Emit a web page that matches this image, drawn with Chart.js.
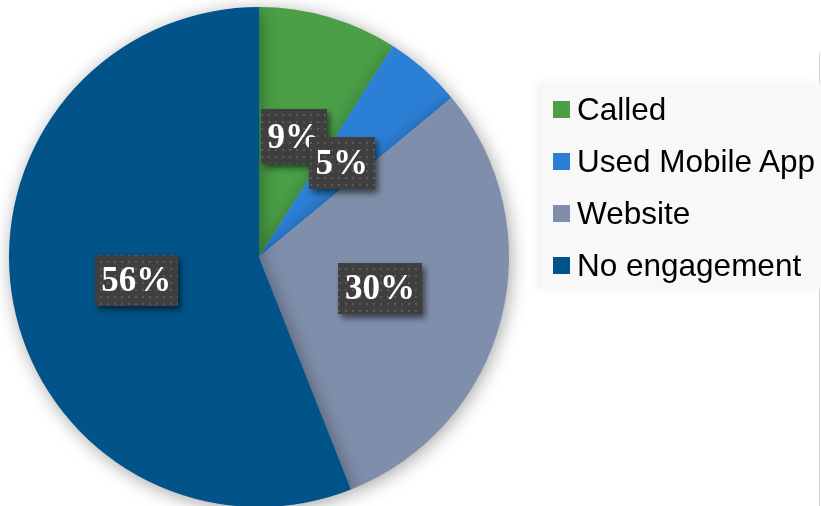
<!DOCTYPE html>
<html><head><meta charset="utf-8">
<script src="https://cdn.jsdelivr.net/npm/chart.js@4"></script>
<style>
html,body{margin:0;padding:0;background:#fff;overflow:hidden;width:821px;height:506px}
#wrap{position:absolute;left:0;top:0;width:821px;height:520px}
#vline{position:absolute;left:819px;top:53px;width:1px;height:460px;background:#d4d4d4}
#legend{position:absolute;left:541px;top:83px;width:280px;height:206px;background:#f8f8f8;box-shadow:-4px 0 8px rgba(0,0,0,0.06);font-family:"Liberation Sans",Arial,sans-serif;font-size:31.5px;color:#000;overflow:hidden}
.item{position:absolute;left:12px;height:34px;line-height:34px;white-space:nowrap}
.sw{display:inline-block;width:17px;height:17px;vertical-align:middle;margin-right:7px;position:relative;top:-2px}
</style></head><body>
<div id="wrap"><canvas id="c" width="821" height="520"></canvas></div>
<div id="vline"></div>
<div id="legend"></div>
<script>
const categories = ["Called", "Used Mobile App", "Website", "No engagement"];
const values = [9, 5, 30, 56];
const labels = ["9%", "5%", "30%", "56%"];
const colors = ["#4a9f47", "#2b7fd5", "#7f8eaa", "#015389"];

// legend
const lg = document.getElementById('legend');
categories.forEach((c,i)=>{
  const d=document.createElement('div');d.className='item';d.style.top=(9+i*52)+'px';
  d.innerHTML='<span class="sw" style="background:'+colors[i]+'"></span>'+c;
  lg.appendChild(d);
});

function makePattern(ctx){
  const p=document.createElement('canvas');p.width=7;p.height=7;
  const g=p.getContext('2d');g.fillStyle='#3f3f3f';g.fillRect(0,0,7,7);
  g.fillStyle='#5a5a5a';g.fillRect(2,2,2,2);
  return ctx.createPattern(p,'repeat');
}

const shadowPlugin={
  id:'sh',
  beforeDatasetsDraw(chart){const c=chart.ctx;c.save();c.shadowColor='rgba(0,0,0,0.35)';c.shadowBlur=18;c.shadowOffsetX=2;c.shadowOffsetY=3;},
  afterDatasetsDraw(chart){chart.ctx.restore();}
};
const labelPlugin={
  id:'lbl',
  afterDraw(chart){
    const c=chart.ctx;const meta=chart.getDatasetMeta(0);
    const pat=makePattern(c);
    const boxW=[66,66,84,83],boxH=[55,52,51,51];
    const order=[3,2,0,1];
    order.forEach(i=>{
      const arc=meta.data[i];const p=arc.getCenterPoint();
      const w=boxW[i],h=boxH[i];const x=Math.round(p.x-w/2),y=Math.round(p.y-h/2);
      c.save();
      c.shadowColor='rgba(0,0,0,0.55)';c.shadowBlur=6;c.shadowOffsetX=3;c.shadowOffsetY=4;
      c.fillStyle=pat;c.fillRect(x,y,w,h);
      c.restore();
      c.save();
      c.fillStyle='#ffffff';c.font='bold 35px "Liberation Serif", "Times New Roman", serif';
      c.textAlign='center';c.textBaseline='middle';
      c.beginPath();c.rect(x,y,w,h);c.clip();
      c.fillText(labels[i],p.x,p.y+2);
      c.restore();
    });
  }
};

new Chart(document.getElementById('c'),{
  type:'pie',
  data:{labels:categories,datasets:[{data:values,backgroundColor:colors,borderWidth:0,hoverOffset:0}]},
  options:{responsive:false,animation:false,
    layout:{padding:{left:9,top:7,right:312,bottom:13}},
    plugins:{legend:{display:false},tooltip:{enabled:false}}},
  plugins:[shadowPlugin,labelPlugin]
});
</script></body></html>
